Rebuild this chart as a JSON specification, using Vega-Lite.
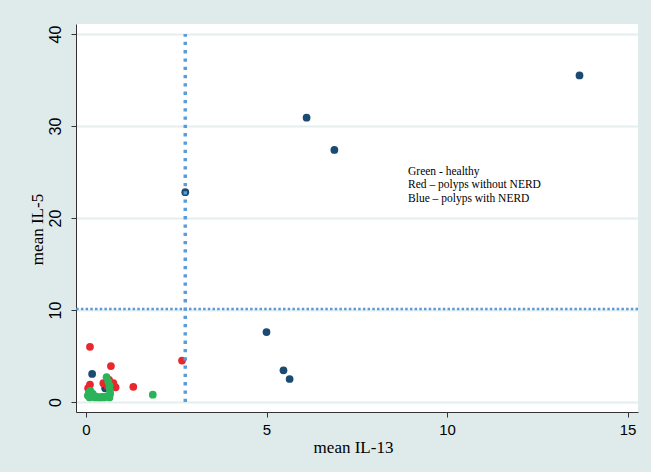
{
  "$schema": "https://vega.github.io/schema/vega-lite/v6.json",
  "width": 562,
  "height": 388,
  "autosize": {"type": "none"},
  "padding": {"left": 76, "top": 24, "right": 13, "bottom": 60},
  "background": "#dfebeb",
  "config": {
    "view": {"fill": "white", "stroke": null},
    "axis": {"domainColor": "#333333", "tickColor": "#333333", "labelColor": "#000000", "titleColor": "#000000", "labelFont": "Liberation Sans", "titleFont": "Liberation Serif", "titleFontWeight": "normal"},
    "axisY": {"labelAngle": -90}
  },
  "datasets": {
    "points": [
      {"il13": 13.67, "il5": 35.5, "group": "Blue"},
      {"il13": 6.11, "il5": 30.9, "group": "Blue"},
      {"il13": 6.88, "il5": 27.4, "group": "Blue"},
      {"il13": 2.75, "il5": 22.8, "group": "Blue"},
      {"il13": 5.0, "il5": 7.6, "group": "Blue"},
      {"il13": 5.47, "il5": 3.45, "group": "Blue"},
      {"il13": 5.64, "il5": 2.5, "group": "Blue"},
      {"il13": 0.17, "il5": 3.05, "group": "Blue"},
      {"il13": 0.53, "il5": 1.5, "group": "Blue"},
      {"il13": 0.11, "il5": 6.0, "group": "Red"},
      {"il13": 0.69, "il5": 3.9, "group": "Red"},
      {"il13": 2.66, "il5": 4.5, "group": "Red"},
      {"il13": 1.31, "il5": 1.65, "group": "Red"},
      {"il13": 0.11, "il5": 1.9, "group": "Red"},
      {"il13": 0.06, "il5": 1.5, "group": "Red"},
      {"il13": 0.48, "il5": 2.05, "group": "Red"},
      {"il13": 0.76, "il5": 2.05, "group": "Red"},
      {"il13": 0.82, "il5": 1.6, "group": "Red"},
      {"il13": 0.64, "il5": 2.4, "group": "Red"},
      {"il13": 0.6, "il5": 1.7, "group": "Red"},
      {"il13": 1.85, "il5": 0.8, "group": "Green"},
      {"il13": 0.57, "il5": 2.7, "group": "Green"},
      {"il13": 0.62, "il5": 2.2, "group": "Green"},
      {"il13": 0.65, "il5": 1.8, "group": "Green"},
      {"il13": 0.66, "il5": 1.3, "group": "Green"},
      {"il13": 0.67, "il5": 0.9, "group": "Green"},
      {"il13": 0.65, "il5": 0.5, "group": "Green"},
      {"il13": 0.05, "il5": 0.7, "group": "Green"},
      {"il13": 0.08, "il5": 1.0, "group": "Green"},
      {"il13": 0.12, "il5": 1.2, "group": "Green"},
      {"il13": 0.15, "il5": 0.6, "group": "Green"},
      {"il13": 0.2, "il5": 0.8, "group": "Green"},
      {"il13": 0.25, "il5": 0.5, "group": "Green"},
      {"il13": 0.3, "il5": 0.55, "group": "Green"},
      {"il13": 0.35, "il5": 0.5, "group": "Green"},
      {"il13": 0.4, "il5": 0.5, "group": "Green"},
      {"il13": 0.45, "il5": 0.55, "group": "Green"},
      {"il13": 0.5, "il5": 0.5, "group": "Green"},
      {"il13": 0.55, "il5": 0.6, "group": "Green"},
      {"il13": 0.1, "il5": 0.5, "group": "Green"},
      {"il13": 0.18, "il5": 0.9, "group": "Green"}
    ],
    "notes": [
      {"x": 8.92, "y": 25.03, "label": "Green  - healthy"},
      {"x": 8.92, "y": 23.55, "label": "Red – polyps without NERD"},
      {"x": 8.92, "y": 22.03, "label": "Blue – polyps with NERD"}
    ]
  },
  "layer": [
    {
      "data": {"name": "points"},
      "mark": {"type": "circle", "opacity": 1, "size": 60},
      "encoding": {
        "x": {
          "field": "il13", "type": "quantitative",
          "scale": {"domain": [-0.277, 15.29], "nice": false, "zero": false},
          "axis": {"values": [0, 5, 10, 15], "grid": false, "tickSize": 5, "labelFontSize": 15, "labelPadding": 5,
                   "title": "mean IL-13", "titleFontSize": 17, "titleX": 277, "titleY": 35, "titleBaseline": "middle", "titleAlign": "center"}
        },
        "y": {
          "field": "il5", "type": "quantitative",
          "scale": {"domain": [-1.087, 41.087], "nice": false, "zero": false},
          "axis": {"values": [0, 10, 20, 30, 40], "grid": true, "gridColor": "#e4eeef", "gridWidth": 2, "tickSize": 5,
                   "labelFontSize": 16, "labelAngle": -90, "labelPadding": 8,
                   "title": "mean IL-5", "titleFontSize": 17, "titleAngle": -90, "titleX": -39, "titleY": 205, "titleBaseline": "middle", "titleAlign": "center"}
        },
        "color": {
          "field": "group", "type": "nominal",
          "scale": {"domain": ["Blue", "Red", "Green"], "range": ["#1b4a72", "#e8282d", "#2bb35a"]},
          "legend": null
        }
      }
    },
    {
      "data": {"values": [{"y": 10.1}]},
      "mark": {"type": "rule", "color": "#5a9bd8", "strokeWidth": 2.5, "strokeDash": [2.5, 2.2]},
      "encoding": {"y": {"field": "y", "type": "quantitative"}}
    },
    {
      "data": {"values": [{"x": 2.75, "y": 0, "y2": 40}]},
      "mark": {"type": "rule", "color": "#5a9bd8", "strokeWidth": 3.5, "strokeDash": [3.3, 5]},
      "encoding": {
        "x": {"field": "x", "type": "quantitative"},
        "y": {"field": "y", "type": "quantitative"},
        "y2": {"field": "y2"}
      }
    },
    {
      "data": {"name": "notes"},
      "mark": {"type": "text", "align": "left", "baseline": "middle", "font": "Liberation Serif", "fontSize": 11.5, "color": "#000000"},
      "encoding": {
        "x": {"field": "x", "type": "quantitative"},
        "y": {"field": "y", "type": "quantitative"},
        "text": {"field": "label"}
      }
    }
  ]
}
